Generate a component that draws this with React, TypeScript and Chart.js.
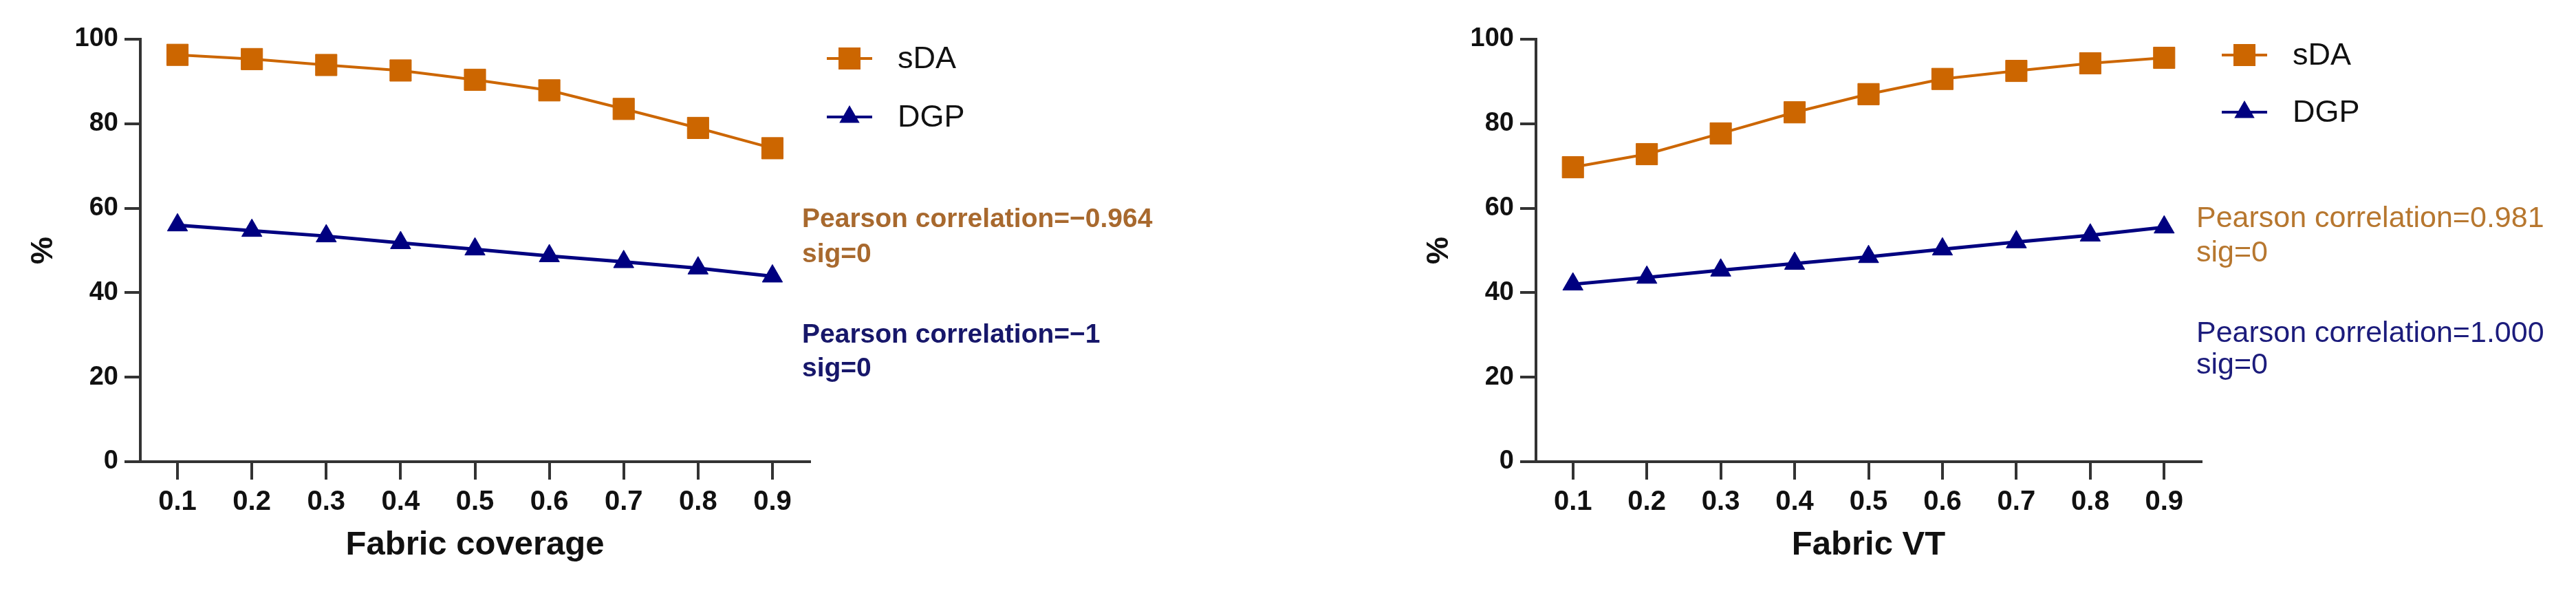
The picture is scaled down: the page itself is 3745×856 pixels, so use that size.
import React, { useEffect, useRef } from 'react';
import { Chart, registerables } from 'chart.js';

Chart.register(...registerables);

// ---------- data ----------
const categories = ['0.1', '0.2', '0.3', '0.4', '0.5', '0.6', '0.7', '0.8', '0.9'];
const yTickStep = 20;
const yMin = 0;
const yMax = 100;

const coverageSDA = [96.3, 95.3, 93.9, 92.6, 90.4, 87.9, 83.5, 79.0, 74.2];
const coverageDGP = [56.0, 54.7, 53.4, 51.8, 50.3, 48.7, 47.3, 45.8, 43.9];
const vtSDA = [69.7, 72.8, 77.7, 82.7, 87.0, 90.6, 92.5, 94.3, 95.6];
const vtDGP = [42.0, 43.6, 45.3, 46.9, 48.5, 50.3, 52.0, 53.6, 55.5];

const seriesNames = ['sDA', 'DGP'];
const xTitles = ['Fabric coverage', 'Fabric VT'];
const yTitle = '%';

const coverageNotes = [
  ['Pearson correlation=\u22120.964', 'sig=0'],
  ['Pearson correlation=\u22121', 'sig=0'],
];
const vtNotes = [
  ['Pearson correlation=0.981', 'sig=0'],
  ['Pearson correlation=1.000', 'sig=0'],
];

// ---------- styles ----------
const FONT = '"Liberation Sans", Arial, Helvetica, sans-serif';
const ORANGE = '#CC6600';
const NAVY = '#000080';
const NOTE_ORANGE = '#A8692E';
const NOTE_NAVY = '#17176A';
const NOTE_ORANGE_LIGHT = '#B7772F';
const NOTE_NAVY_LIGHT = '#1C1C7C';
const AXIS = '#333333';

type Panel = {
  id: string;
  canvasLeft: number;
  canvasWidth: number;
  padLeft: number;
  padRight: number;
  sda: number[];
  dgp: number[];
  xTitle: string;
  notes: string[][];
  noteColors: string[];
  noteFont: string;
  noteDx: number;
  noteYs: number[][];
  legendDx: number;
  legendYs: number[];
};

const panels: Panel[] = [
  {
    id: 'left',
    canvasLeft: 0,
    canvasWidth: 1870,
    padLeft: 0,
    padRight: 693,
    sda: coverageSDA,
    dgp: coverageDGP,
    xTitle: xTitles[0],
    notes: coverageNotes,
    noteColors: [NOTE_ORANGE, NOTE_NAVY],
    noteFont: `bold 39px ${FONT}`,
    noteDx: -11,
    noteYs: [[319, 370], [487, 536]],
    legendDx: 25,
    legendYs: [85, 170],
  },
  {
    id: 'right',
    canvasLeft: 1870,
    canvasWidth: 1875,
    padLeft: 159,
    padRight: 545,
    sda: vtSDA,
    dgp: vtDGP,
    xTitle: xTitles[1],
    notes: vtNotes,
    noteColors: [NOTE_ORANGE_LIGHT, NOTE_NAVY_LIGHT],
    noteFont: `43px ${FONT}`,
    noteDx: -7,
    noteYs: [[318, 368], [485, 531]],
    legendDx: 30,
    legendYs: [80, 163],
  },
];

function drawMarker(ctx: CanvasRenderingContext2D, style: string, x: number, y: number, color: string) {
  ctx.fillStyle = color;
  ctx.beginPath();
  if (style === 'rect') {
    ctx.rect(x - 16, y - 16, 32, 32);
  } else {
    const r = 17;
    for (let k = 0; k < 3; k++) {
      const a = (k * 2 * Math.PI) / 3;
      const px = x + Math.sin(a) * r;
      const py = y - Math.cos(a) * r;
      if (k === 0) ctx.moveTo(px, py);
      else ctx.lineTo(px, py);
    }
    ctx.closePath();
  }
  ctx.fill();
}

function overlayPlugin(panel: Panel) {
  return {
    id: 'overlay_' + panel.id,
    afterDraw(chart: any) {
      const ctx: CanvasRenderingContext2D = chart.ctx;
      const ca = chart.chartArea;
      ctx.save();
      // legend
      chart.data.datasets.forEach((ds: any, i: number) => {
        const y = panel.legendYs[i];
        const x0 = ca.right + panel.legendDx;
        ctx.strokeStyle = ds.borderColor;
        ctx.lineWidth = 4;
        ctx.beginPath();
        ctx.moveTo(x0, y);
        ctx.lineTo(x0 + 66, y);
        ctx.stroke();
        drawMarker(ctx, ds.pointStyle, x0 + 33, y, ds.backgroundColor);
        ctx.fillStyle = '#111111';
        ctx.font = `45px ${FONT}`;
        ctx.textAlign = 'left';
        ctx.textBaseline = 'middle';
        ctx.fillText(ds.label, x0 + 103, y + 2);
      });
      // correlation notes
      panel.notes.forEach((lines, i) => {
        ctx.fillStyle = panel.noteColors[i];
        ctx.font = panel.noteFont;
        ctx.textAlign = 'left';
        ctx.textBaseline = 'middle';
        lines.forEach((t, j) => {
          ctx.fillText(t, ca.right + panel.noteDx, panel.noteYs[i][j]);
        });
      });
      ctx.restore();
    },
  };
}

function makeChart(canvas: HTMLCanvasElement, panel: Panel) {
  return new Chart(canvas, {
    type: 'line',
    data: {
      labels: categories,
      datasets: [
        {
          label: seriesNames[0],
          data: panel.sda,
          borderColor: ORANGE,
          backgroundColor: ORANGE,
          borderWidth: 4,
          pointStyle: 'rect',
          pointRadius: 22,
          pointBorderWidth: 1,
          pointBorderColor: ORANGE,
          pointBackgroundColor: ORANGE,
          tension: 0,
        },
        {
          label: seriesNames[1],
          data: panel.dgp,
          borderColor: NAVY,
          backgroundColor: NAVY,
          borderWidth: 5,
          pointStyle: 'triangle',
          pointRadius: 17,
          pointBorderWidth: 1,
          pointBorderColor: NAVY,
          pointBackgroundColor: NAVY,
          tension: 0,
        },
      ],
    },
    options: {
      responsive: false,
      maintainAspectRatio: false,
      animation: false,
      events: [],
      devicePixelRatio: 1,
      layout: {
        padding: { left: panel.padLeft, right: panel.padRight, top: 57, bottom: 0 },
      },
      plugins: {
        legend: { display: false },
        tooltip: { enabled: false },
        title: { display: false },
      },
      scales: {
        x: {
          type: 'category',
          offset: true,
          afterFit: (s: any) => {
            s.height = 185;
          },
          grid: {
            display: true,
            drawOnChartArea: false,
            drawTicks: true,
            tickLength: 26,
            tickWidth: 4,
            tickColor: AXIS,
            lineWidth: 4,
            color: AXIS,
            offset: false,
          },
          border: { display: true, color: AXIS, width: 4 },
          ticks: {
            color: '#111111',
            padding: 9,
            maxRotation: 0,
            autoSkip: false,
            font: { family: FONT, size: 40, weight: 'bold', lineHeight: 1.2 },
          },
          title: {
            display: true,
            text: panel.xTitle,
            color: '#111111',
            padding: { top: 0, bottom: 34 },
            font: { family: FONT, size: 49, weight: 'bold', lineHeight: 1.2 },
          },
        },
        y: {
          type: 'linear',
          min: yMin,
          max: yMax,
          afterFit: (s: any) => {
            s.width = 204;
          },
          grid: {
            display: true,
            drawOnChartArea: false,
            drawTicks: true,
            tickLength: 23,
            tickWidth: 4,
            tickColor: AXIS,
            lineWidth: 4,
            color: AXIS,
          },
          border: { display: true, color: AXIS, width: 4 },
          ticks: {
            stepSize: yTickStep,
            color: '#111111',
            padding: 9,
            font: { family: FONT, size: 38, weight: 'bold', lineHeight: 1.2 },
          },
          title: {
            display: true,
            text: yTitle,
            color: '#111111',
            padding: { top: 37, bottom: 0 },
            font: { family: FONT, size: 45, weight: 'bold', lineHeight: 1.2 },
          },
        },
      },
    } as any,
    plugins: [overlayPlugin(panel)],
  });
}

export default function App() {
  const leftRef = useRef<HTMLCanvasElement | null>(null);
  const rightRef = useRef<HTMLCanvasElement | null>(null);

  useEffect(() => {
    const charts: Chart[] = [];
    if (leftRef.current) charts.push(makeChart(leftRef.current, panels[0]));
    if (rightRef.current) charts.push(makeChart(rightRef.current, panels[1]));
    return () => {
      charts.forEach((c) => c.destroy());
    };
  }, []);

  const refs = [leftRef, rightRef];
  return (
    <div
      style={{
        position: 'absolute',
        left: 0,
        top: 0,
        width: 3745,
        height: 856,
        background: '#ffffff',
        overflow: 'hidden',
      }}
    >
      {panels.map((p, i) => (
        <canvas
          key={p.id}
          ref={refs[i]}
          width={p.canvasWidth}
          height={856}
          style={{
            position: 'absolute',
            left: p.canvasLeft,
            top: 0,
            width: p.canvasWidth,
            height: 856,
            display: 'block',
          }}
        />
      ))}
    </div>
  );
}
